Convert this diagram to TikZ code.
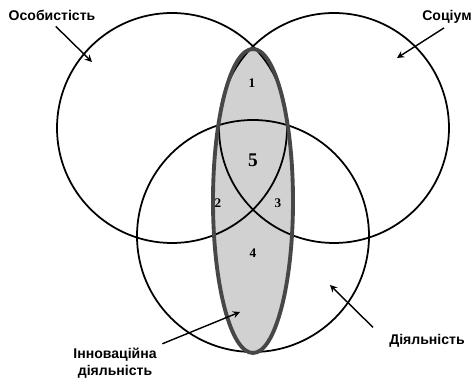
\documentclass[tikz,border=0pt]{standalone}
\usepackage{fontspec}
\newfontfamily\labfont{Liberation Sans}
\newfontfamily\numfont{Liberation Serif}

\begin{document}
\begin{tikzpicture}[thick,
  circ/.style={line width=1pt},
  lab/.style={font=\labfont\bfseries\fontsize{8}{10}\selectfont, align=center, inner sep=1pt},
  num/.style={font=\numfont\bfseries\fontsize{7.5}{8}\selectfont},
  arr/.style={line width=0.8pt, -stealth}]
  \useasboundingbox (0,0) rectangle (9.52,7.62);

  \coordinate (L) at (3.44,5.06);
  \coordinate (R) at (6.68,5.06);
  \coordinate (B) at (5.06,2.90);
  \coordinate (E) at (5.06,3.60);

  % інноваційна діяльність -- еліпс
  \fill[black!18] (E) ellipse (0.80 and 3.04);
  \draw[circ] (L) circle (2.30);
  \draw[circ] (R) circle (2.30);
  \draw[circ] (B) circle (2.32);
  \draw[black!72, line width=2.2pt] (E) ellipse (0.80 and 3.04);

  % номери областей
  \node[num] (n1) at (5.04,5.96) {1};
  \node[num] (n2) at (4.36,3.56) {2};
  \node[num] (n3) at (5.56,3.56) {3};
  \node[num] (n4) at (5.06,2.56) {4};
  \node[num, font=\numfont\bfseries\fontsize{11}{12}\selectfont] (n5) at (5.06,4.42) {5};

  \node[lab] (osob) at (1.04,7.32) {Особистість};
  \node[lab] (soc) at (8.94,7.28) {Соціум};
  \node[lab] (dial) at (8.54,0.80) {Діяльність};
  \node[lab] (inno) at (2.30,0.36) {Інноваційна\\діяльність};

  \coordinate (osobT) at (1.84,6.38);
  \coordinate (socT) at (7.94,6.46);
  \coordinate (dialT) at (6.60,1.92);
  \coordinate (innoT) at (4.80,1.38);

  \draw[arr, shorten <=3pt] (osob.south) -- (osobT);
  \draw[arr, shorten <=2pt] (soc.south) -- (socT);
  \draw[arr, shorten <=11pt] (dial.west) -- (dialT);
  \draw[arr, shorten <=2pt] (inno.north east) -- (innoT);
\end{tikzpicture}
\end{document}
